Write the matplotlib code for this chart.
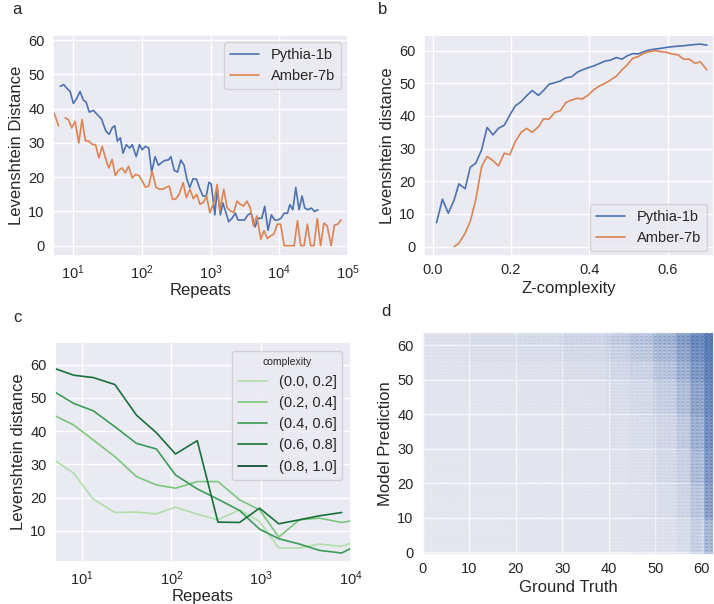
import numpy as np
import matplotlib
matplotlib.use("Agg")
import matplotlib.pyplot as plt
import seaborn as sns

# ---- panel a: distance vs repeats ----
repeats_py = [6.5, 7.3, 8.1, 9.05, 10.1, 11.3, 12.6, 14.1, 15.4, 17.2, 19.7, 23.2, 25.9, 29.9,
              33.4, 37.3, 40.4, 44.1, 48.7, 53.2, 59.4, 66.4, 72.6, 82.9, 92.5, 101, 113, 126,
              139, 156, 174, 201, 224, 243, 265, 296, 331, 369, 412, 451, 498, 556, 621, 701,
              775, 866, 946, 1022, 1155, 1248, 1394, 1507, 1683, 1838, 2053, 2295, 2507, 2800,
              3127, 3493, 3902, 4457, 4870, 5564, 6145, 6862, 7670, 8568, 9465, 10570, 11800,
              13190, 14250, 15740, 17390, 19420, 21460, 23450, 26190, 29250, 32660, 36520]
dist_py = [46.5, 47, 46, 45, 41.5, 43, 45, 42.5, 42, 39, 39.5, 38, 37, 33.5, 32.5, 34.5, 35,
           30.5, 31.5, 27, 29.5, 28.5, 29.5, 26, 29.5, 28, 29, 28.5, 21.5, 26, 23.5, 24.5, 25,
           25, 26, 22, 21.5, 25, 23.5, 19.5, 17, 19.5, 19.5, 16.5, 14.5, 14.5, 18.5, 18, 9,
           16.5, 9, 12.5, 9.5, 7, 8, 9.5, 7.5, 7.5, 7.5, 9, 9.5, 5.5, 8, 8, 11.5, 4.5, 9, 7.5,
           7.5, 8, 9.5, 9.5, 12, 10.5, 17, 10.5, 14.5, 11, 10.5, 11, 10, 10.5]

repeats_am = [5.32, 6.14, 7.0, 7.67, 8.57, 9.57, 10.7, 12.1, 13.5, 15.1, 16.8, 19.2, 21.2, 23.7,
              26.5, 29.6, 33.0, 36.9, 41.2, 46.0, 51.5, 57.5, 64.2, 72.6, 81.1, 90.6, 101, 113,
              126, 141, 161, 180, 201, 224, 251, 280, 313, 349, 399, 445, 503, 562, 628, 701,
              783, 875, 977, 1117, 1248, 1363, 1557, 1739, 1942, 2171, 2425, 2709, 3026, 3380,
              3776, 4217, 4711, 5383, 6012, 6715, 7501, 8379, 9360, 10450, 11800, 13190, 14730,
              16450, 18380, 20530, 22950, 25630, 28630, 31980, 35720, 39910, 44580, 49790,
              56880, 63530, 70960, 79260]
dist_am = [38.7, 35, np.nan, 37.3, 36.8, 34.4, 36.3, 30, 36.8, 30.6, 30.6, 29.5, 29.5, 25.6, 29,
           25.6, 22.7, 25.2, 20.5, 22, 22.7, 21.3, 23.2, 19.8, 20.8, 20.5, 18.9, 17.1, 17.4,
           21.8, 17, 16.5, 16.5, 17, 17.4, 13.5, 13.7, 15, 18.4, 14, 16.5, 13.7, 15, 12.1,
           12.6, 14.5, 9.7, 12.6, 17.9, 10.2, 16.5, 11.1, 10.2, 9.7, 13, 12.1, 11.6, 13, 11.1,
           5.8, 8.7, 1.9, 4.4, 2.1, 2.9, 3.4, 6.3, 6.3, 0, 0, 0, 0, 7.3, 0, 0, 6.3, 0, 0, 7.9,
           0, 6.6, 5.8, 0, 6, 6.3, 7.5]

# ---- panel b: distance vs Z-complexity ----
zc = [0.010, 0.025, 0.040, 0.055, 0.067, 0.083, 0.096, 0.110, 0.125, 0.139, 0.154, 0.168,
      0.183, 0.197, 0.211, 0.226, 0.240, 0.254, 0.270, 0.283, 0.297, 0.312, 0.326, 0.340,
      0.355, 0.369, 0.382, 0.397, 0.411, 0.426, 0.440, 0.454, 0.469, 0.483, 0.496, 0.511,
      0.525, 0.539, 0.553, 0.568, 0.582, 0.597, 0.610, 0.627, 0.640, 0.655, 0.670, 0.683,
      0.700]
zdist_py = [7.3, 14.5, 10.2, 14.3, 19.2, 17.7, 24.3, 25.5, 29.6, 36.5, 34.2, 36.2, 37.2, 40.3,
            43.1, 44.4, 46.2, 47.8, 46.3, 47.8, 49.7, 50.2, 50.7, 51.7, 52.0, 53.4, 54.1, 54.8,
            55.3, 56.1, 56.8, 57.1, 57.9, 57.4, 58.4, 59.1, 59.0, 59.7, 60.2, 60.5, 60.7, 61.0,
            61.2, 61.4, 61.5, 61.7, 61.9, 62.0, 61.7]
zdist_am = [np.nan, np.nan, np.nan, 0, 1.0, 4.1, 7.7, 14.3, 24.5, 27.6, 26.3, 24.7, 28.6, 28.1,
            32.2, 35.0, 36.2, 35.0, 36.7, 39.1, 39.0, 41.1, 41.6, 44.1, 44.9, 45.4, 45.2, 46.4,
            48.0, 49.2, 50.0, 51.0, 52.2, 54.1, 55.6, 57.7, 58.2, 59.2, 59.7, 60.0, 59.7, 59.5,
            59.0, 58.7, 57.4, 57.4, 56.1, 56.6, 54.1]

# ---- panel c: distance vs repeats by complexity bin ----
complexity_bins = ["(0.0, 0.2]", "(0.2, 0.4]", "(0.4, 0.6]", "(0.6, 0.8]", "(0.8, 1.0]"]
repeats_c = [5.06, 8.2, 13.5, 23.5, 40.8, 68.1, 111, 194, 330, 575, 958, 1570, 2666, 4446,
             7870, 13500]
dist_c00 = [31.1, 27.3, 19.5, 15.5, 15.6, 15.1, 17.1, 15.0, 13.3, 16.3, 12.8, 4.8, 4.8, 6.0,
            5.3, 7.5]
dist_c02 = [44.6, 41.8, 37.3, 32.3, 26.3, 23.8, 22.8, 24.8, 24.8, 19.3, 16.3, 8.1, 13.3, 13.8,
            12.5, 13.5]
dist_c04 = [51.7, 48.3, 46.1, 41.3, 36.3, 34.6, 26.8, 22.6, 19.5, 16.1, 10.5, 7.6, 6.0, 4.1,
            3.3, 6.5]
dist_c06 = [58.8, 56.8, 56.1, 54.0, 44.8, 39.5, 33.1, 37.1, 12.6, 12.5, 16.8, 12.1, 13.3, 14.5,
            15.5, np.nan]
dist_c08 = [np.nan] * 16
greens = ["#b2dfa9", "#7cc67c", "#3b9d58", "#18703b", "#00441b"]

# ---- panel d: prediction vs ground truth, mean points per integer cell ----
d_x_edges = [0, 10, 20, 30, 40, 45, 50, 55, 58, 61, 64]
d_y_edges = [0, 10, 20, 30, 40, 50, 56, 60, 64]
d_counts = [  # rows from low y to high y
    [0.15, 0.15, 0.16, 0.18, 0.22, 0.28, 0.35, 0.50, 1.1, 2.5],
    [0.15, 0.15, 0.16, 0.18, 0.22, 0.28, 0.45, 0.80, 1.6, 4.5],
    [0.15, 0.16, 0.17, 0.20, 0.28, 0.35, 0.60, 1.00, 2.2, 5.5],
    [0.16, 0.17, 0.18, 0.22, 0.32, 0.45, 0.75, 1.30, 3.0, 7.0],
    [0.18, 0.20, 0.22, 0.28, 0.45, 0.60, 1.10, 2.00, 4.0, 8.5],
    [0.24, 0.28, 0.32, 0.42, 0.70, 0.95, 1.70, 3.00, 5.5, 10.0],
    [0.30, 0.40, 0.45, 0.60, 1.00, 1.40, 2.40, 4.00, 7.0, 12.0],
    [0.35, 0.50, 0.60, 0.85, 1.30, 1.80, 3.00, 5.00, 8.5, 14.0],
]

sns.set_theme(style="darkgrid")
plt.rcParams["font.family"] = ["Liberation Sans", "DejaVu Sans"]
plt.rcParams["mathtext.default"] = "regular"
plt.rcParams["xtick.labelsize"] = 10.5
plt.rcParams["ytick.labelsize"] = 10.5
plt.rcParams["axes.labelsize"] = 12
plt.rcParams["xtick.major.size"] = 0
plt.rcParams["ytick.major.size"] = 0
plt.rcParams["xtick.minor.size"] = 0
plt.rcParams["ytick.minor.size"] = 0
plt.rcParams["xtick.major.pad"] = 5
plt.rcParams["ytick.major.pad"] = 6
plt.rcParams["axes.labelpad"] = 3

blue = "#4c72b0"
orange = "#dd8452"

fig = plt.figure(figsize=(7.14, 6.04), dpi=100)
W, H = 714, 604


def add_ax(left, top, right, bottom):
    return fig.add_axes([left / W, 1 - bottom / H, (right - left) / W, (bottom - top) / H])


# a
ax = add_ax(53, 35, 348, 256)
ax.plot(repeats_py, dist_py, color=blue, lw=1.2, label="Pythia-1b")
ax.plot(repeats_am, dist_am, color=orange, lw=1.2, label="Amber-7b")
ax.set_xscale("log")
ax.set_xlim(5.1, 1e5)
ax.set_ylim(-3, 61.5)
ax.set_yticks(range(0, 61, 10))
ax.set_xlabel("Repeats", labelpad=1)
ax.set_ylabel("Levenshtein Distance")
ax.legend(loc="upper right", fontsize=10.5)

# b
ax = add_ax(424, 35, 714, 256)
ax.plot(zc, zdist_py, color=blue, lw=1.2, label="Pythia-1b")
ax.plot(zc, zdist_am, color=orange, lw=1.2, label="Amber-7b")
ax.set_xlim(-0.022, 0.718)
ax.set_ylim(-2.9, 64.8)
ax.set_xticks([0.0, 0.2, 0.4, 0.6])
ax.set_yticks(range(0, 61, 10))
ax.set_xlabel("Z-complexity")
ax.set_ylabel("Levenshtein distance")
ax.legend(loc="lower right", fontsize=10.5, bbox_to_anchor=(1.0, -0.01))

# c
ax = add_ax(55, 342, 351, 562)
for lab, col, ys in zip(complexity_bins, greens,
                        [dist_c00, dist_c02, dist_c04, dist_c06, dist_c08]):
    ax.plot(repeats_c, ys, color=col, lw=1.2, label=lab)
ax.set_xscale("log")
ax.set_xlim(5.06, 1e4)
ax.set_ylim(0.6, 66.8)
ax.set_yticks(range(10, 61, 10))
ax.set_xlabel("Repeats", labelpad=1)
ax.set_ylabel("Levenshtein distance")
ax.legend(loc="upper right", title="complexity", fontsize=10.5, title_fontsize=7.5,
          bbox_to_anchor=(0.995, 0.99))

# d
ax = add_ax(422, 332, 714, 555)
gx, gy = np.meshgrid(np.arange(64), np.arange(64))
gx, gy = gx.ravel(), gy.ravel()
ix = np.digitize(gx, d_x_edges) - 1
iy = np.digitize(gy, d_y_edges) - 1
cnt = np.array(d_counts)[iy, ix]
alpha = 1 - (1 - 0.15) ** cnt
cols = np.tile(np.array(matplotlib.colors.to_rgba(blue)), (len(gx), 1))
cols[:, 3] = alpha
ax.scatter(gx, gy, s=15, c=cols, linewidths=0)
ax.set_xlim(-0.2, 62.6)
ax.set_ylim(-0.8, 63.9)
ax.set_xticks(range(0, 61, 10))
ax.set_yticks(range(0, 61, 10))
ax.set_xlabel("Ground Truth")
ax.set_ylabel("Model Prediction")

for lab, x, y in [("a", 12, 10), ("b", 378, 10), ("c", 13, 317), ("d", 381, 312)]:
    fig.text(x / W, 1 - y / H, lab, fontsize=12, va="center", ha="left")

fig.savefig("out.png", dpi=100)
